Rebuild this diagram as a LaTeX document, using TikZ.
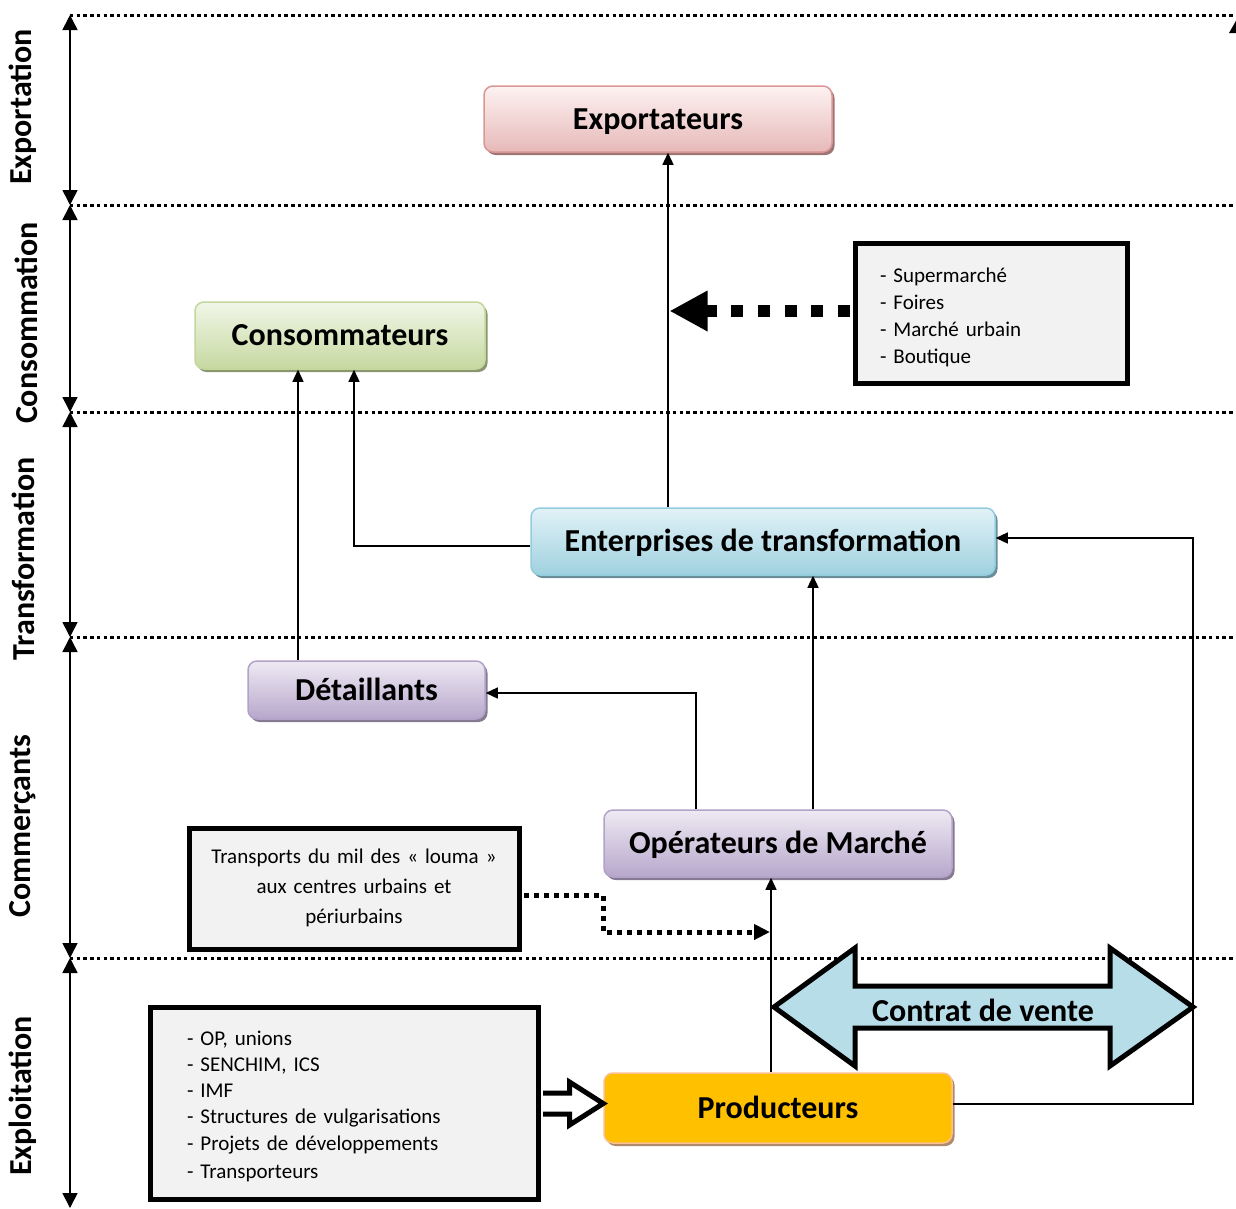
\documentclass[tikz,border=0pt]{standalone}
\usepackage{fontspec}
\setmainfont{Carlito}
\usetikzlibrary{arrows.meta,shadows,calc}
\definecolor{expT}{HTML}{FDF2F2}\definecolor{expM}{HTML}{E6B9B8}\definecolor{expB}{HTML}{D99694}\definecolor{expS}{HTML}{9C7574}
\definecolor{conT}{HTML}{F1F6E8}\definecolor{conM}{HTML}{C6D9A0}\definecolor{conB}{HTML}{C3D69B}\definecolor{conS}{HTML}{8A9670}
\definecolor{entT}{HTML}{E2F2F7}\definecolor{entM}{HTML}{9FD1DF}\definecolor{entB}{HTML}{93CDDD}\definecolor{entS}{HTML}{6A8E99}
\definecolor{purT}{HTML}{EEEAF3}\definecolor{purM}{HTML}{B7A7CC}\definecolor{purB}{HTML}{B3A2C7}\definecolor{purS}{HTML}{857A92}
\definecolor{proF}{HTML}{FFC000}\definecolor{proB}{HTML}{FAC090}\definecolor{proS}{HTML}{B08A6A}
\definecolor{boxgray}{HTML}{F2F2F2}\definecolor{contrat}{HTML}{B7DDE8}
\begin{document}
\begin{tikzpicture}[x=1pt,y=-1pt,
  sepline/.style={line width=3pt, dash pattern=on 3.4pt off 3.3pt},
  vert/.style={line width=1.6pt, {Triangle[length=15pt,width=15pt]}-{Triangle[length=15pt,width=15pt]}},
  sidelab/.style={rotate=90, inner sep=0pt, font=\fontsize{32}{38}\selectfont\bfseries},
  actor/.style={rounded corners=9pt, inner sep=0pt, line width=1.5pt, text height=26pt, text depth=6pt,
    font=\fontsize{32}{38}\selectfont\bfseries},
  info/.style={draw=black, line width=5pt, fill=boxgray, inner sep=0pt, font=\fontsize{21}{27}\selectfont},
  conn/.style={line width=1.3pt, -{Triangle[length=12pt,width=11pt]}},
  block/.style={draw=black, line width=5pt, miter limit=20},
]
\useasboundingbox (0,0) rectangle (1236,1208);

% separators
\foreach \yy in {15,205,412,637,958} \draw[sepline] (70,\yy) -- (1236,\yy);

% vertical double arrows and side labels
\draw[vert] (70,15) -- (70,205);
\draw[vert] (70,205) -- (70,412);
\draw[vert] (70,412) -- (70,637);
\draw[vert] (70,637) -- (70,958);
\draw[vert] (70,958) -- (70,1208);
\fill (1229,33) -- (1237,19) -- (1237,33) -- cycle;

\node[sidelab] (lexp) at (23,107) {Exportation};
\node[sidelab] (lcon) at (26,323) {Consommation};
\node[sidelab] (ltra) at (23,559) {Transformation};
\node[sidelab] (lcom) at (23,826) {Commerçants};
\node[sidelab] (lexl) at (23,1096) {Exploitation};

% actor boxes
\node[actor, draw=expB, top color=expT, bottom color=expM, minimum width=348pt, minimum height=66pt,
  drop shadow={shadow xshift=2.5pt, shadow yshift=-3pt, fill=expS, opacity=1}] (exp) at (658,119) {Exportateurs};
\node[actor, draw=conB, top color=conT, bottom color=conM, minimum width=290pt, minimum height=67pt,
  drop shadow={shadow xshift=2.5pt, shadow yshift=-3pt, fill=conS, opacity=1}] (cons) at (340,335.5) {Consommateurs};
\node[actor, draw=entB, top color=entT, bottom color=entM, minimum width=464pt, minimum height=67pt,
  drop shadow={shadow xshift=2.5pt, shadow yshift=-3pt, fill=entS, opacity=1}] (ent) at (763,541.5) {Enterprises de transformation};
\node[actor, draw=purB, top color=purT, bottom color=purM, minimum width=237pt, minimum height=58pt,
  drop shadow={shadow xshift=2.5pt, shadow yshift=-3pt, fill=purS, opacity=1}] (det) at (366.5,690) {Détaillants};
\node[actor, draw=purB, top color=purT, bottom color=purM, minimum width=348pt, minimum height=67pt,
  drop shadow={shadow xshift=2.5pt, shadow yshift=-3pt, fill=purS, opacity=1}] (ope) at (778,843.5) {Opérateurs de Marché};
\node[actor, draw=proB, fill=proF, minimum width=348pt, minimum height=70pt,
  drop shadow={shadow xshift=2.5pt, shadow yshift=-3pt, fill=proS, opacity=1}] (prod) at (778,1108) {Producteurs};

% info boxes
\node[info, minimum width=272pt, minimum height=140pt, text width=222pt, align=left] (sup) at (991,313)
  {\rule{0pt}{24pt}- Supermarché\\- Foires\\- Marché urbain\\- Boutique};
\node[info, minimum width=330pt, minimum height=121pt, text width=320pt, align=center,
  font=\fontsize{21}{30}\selectfont] (trans) at (354,888.5)
  {Transports du mil des «~louma~»\\aux centres urbains et\\périurbains\rule[-5pt]{0pt}{5pt}};
\node[info, minimum width=388pt, minimum height=192pt, text width=314pt, align=left,
  font=\fontsize{21}{26.3}\selectfont] (lbox) at (344,1103)
  {\rule{0pt}{21pt}- OP, unions\\- SENCHIM, ICS\\- IMF\\- Structures de vulgarisations\\- Projets de développements\\[2pt]- Transporteurs};

% helper coordinates
\coordinate (xa) at (668,0);
\coordinate (xb) at (298,0);
\coordinate (xc) at (354,0);
\coordinate (xd) at (696,0);
\coordinate (xe) at (813,0);
\coordinate (xf) at (771,0);
\coordinate (xr) at (1193,0);
\coordinate (xv) at (603,0);
\coordinate (yl) at (0,546);
\coordinate (yd) at (0,693);
\coordinate (ye) at (0,538);
\coordinate (yp) at (0,1104);
\coordinate (yt1) at (0,895);
\coordinate (yt2) at (0,932);

% connectors
\draw[conn] (ent.north -| xa) -- (exp.south -| xa);
\draw[conn] (det.north -| xb) -- (cons.south -| xb);
\draw[conn] (ent.west |- yl) -| (cons.south -| xc);
\draw[conn] (ope.north -| xd) -- (xd |- yd) -- (det.east |- yd);
\draw[conn] (ope.north -| xe) -- (ent.south -| xe);
\draw[conn] (prod.north -| xf) -- (ope.south -| xf);
\draw[conn] (prod.east |- yp) -- (xr |- yp) -- (xr |- ye) -- (ent.east |- ye);

% thick dashed arrow from markets box
\draw[line width=12pt, dash pattern=on 12pt off 14.7pt, -{Triangle[length=38pt,width=38pt]}]
  ($(sup.west)+(-2.5,-2)$) -- ($(sup.west -| xa)+(1.5,-2)$);

% dotted arrow from transport box
\draw[line width=5pt, dash pattern=on 5pt off 5pt, miter limit=10, -{Triangle[length=16pt,width=15pt]}]
  ($(trans.east |- yt1)+(2.5,0)$) -- (xv |- yt1) -- (xv |- yt2) -- ($(xf |- yt2)+(-1,0)$);

% hollow block arrow from actors box to producers
\filldraw[block, fill=white]
  ($(lbox.east)+(2.5,-10)$) -- ($(lbox.east)+(29,-10)$) -- ($(lbox.east)+(29,-21)$) --
  ($(prod.west)+(0,-4.5)$) -- ($(lbox.east)+(29,22)$) -- ($(lbox.east)+(29,11)$) -- ($(lbox.east)+(2.5,11)$);

% Contrat de vente double block arrow
\filldraw[block, fill=contrat] (774,1007) -- (855,948) -- (855,986) -- (1110,986) -- (1110,948) -- (1193,1007)
  -- (1110,1066) -- (1110,1028) -- (855,1028) -- (855,1066) -- cycle;
\node[font=\fontsize{32}{38}\selectfont\bfseries, inner sep=0pt] (ctr) at (983,1010) {Contrat de vente};
\end{tikzpicture}
\end{document}
